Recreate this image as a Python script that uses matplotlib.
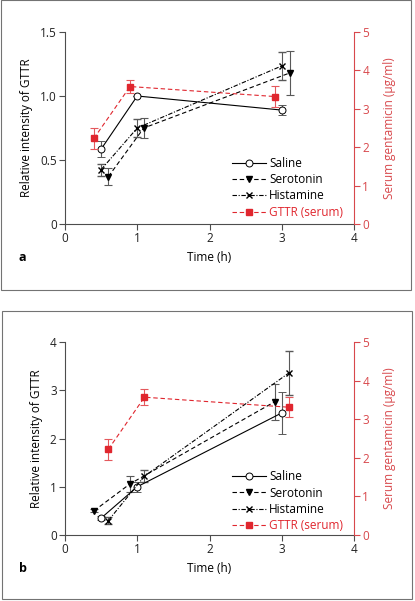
import matplotlib
matplotlib.use("Agg")
import matplotlib.pyplot as plt
from matplotlib.patches import Rectangle

plt.rcParams['font.family'] = ['Open Sans', 'DejaVu Sans']
plt.rcParams['font.size'] = 8.5

RED = '#e0262e'
AXRED = '#d8484c'

# ---- panel a ----
a_saline_x = [0.5, 1.0, 3.0]
a_saline_y = [0.585, 1.0, 0.89]
a_saline_err = [0.065, 0.0, 0.04]

a_sero_x = [0.6, 1.09, 3.11]
a_sero_y = [0.37, 0.75, 1.18]
a_sero_err = [0.065, 0.075, 0.17]

a_hist_x = [0.5, 1.0, 3.0]
a_hist_y = [0.425, 0.75, 1.235]
a_hist_err = [0.047, 0.073, 0.11]

a_gttr_x = [0.4, 0.9, 2.9]
a_gttr_y = [2.23, 3.58, 3.32]
a_gttr_err = [0.27, 0.18, 0.27]

# ---- panel b ----
b_saline_x = [0.5, 1.0, 3.0]
b_saline_y = [0.35, 1.0, 2.53]
b_saline_err = [0.04, 0.1, 0.435]

b_sero_x = [0.4, 0.9, 2.9]
b_sero_y = [0.5, 1.06, 2.76]
b_sero_err = [0.03, 0.16, 0.37]

b_hist_x = [0.6, 1.1, 3.1]
b_hist_y = [0.3, 1.22, 3.36]
b_hist_err = [0.07, 0.12, 0.45]

b_gttr_x = [0.6, 1.1, 3.1]
b_gttr_y = [2.22, 3.57, 3.31]
b_gttr_err = [0.27, 0.2, 0.26]

legend_names = ['Saline', 'Serotonin', 'Histamine', 'GTTR (serum)']


def panel(ax, data, ymax, yticks, yticklabels, letter, legend_y):
    (sx, sy, se), (tx, ty, te), (hx, hy, he), (gx, gy, ge) = data
    ax2 = ax.twinx()
    ebkw = dict(ecolor='0.35', elinewidth=0.8, capsize=3, capthick=0.8)
    l1 = ax.errorbar(sx, sy, yerr=se, color='k', lw=0.8, ls='-', marker='o',
                     ms=5, mfc='white', mec='k', mew=0.7, **ebkw)
    l2 = ax.errorbar(tx, ty, yerr=te, color='k', lw=0.8, ls=(0, (4, 2.5)), marker='v',
                     ms=4.5, mfc='k', mec='k', **ebkw)
    l3 = ax.errorbar(hx, hy, yerr=he, color='k', lw=0.8, ls=(0, (4, 1.5, 1, 1.5)),
                     marker='x', ms=4, mew=1.0, **ebkw)
    l4 = ax2.errorbar(gx, gy, yerr=ge, color=RED, lw=0.8, ls=(0, (4, 2.5)), marker='s',
                      ms=5, mfc=RED, mec=RED, ecolor='#e4585c', elinewidth=0.8,
                      capsize=3, capthick=0.8)

    ax.set_xlim(0, 4)
    ax.set_ylim(0, ymax)
    ax.set_xticks([0, 1, 2, 3, 4])
    ax.set_yticks(yticks)
    ax.set_yticklabels(yticklabels)
    ax2.set_ylim(0, 5)
    ax2.set_yticks([0, 1, 2, 3, 4, 5])

    for a in (ax, ax2):
        a.spines['top'].set_visible(False)
        a.patch.set_visible(False)
    ax.spines['right'].set_visible(False)
    ax2.spines['left'].set_visible(False)
    ax2.spines['bottom'].set_visible(False)
    for s in ('left', 'bottom'):
        ax.spines[s].set_color('0.3')
        ax.spines[s].set_linewidth(0.8)
    ax2.spines['right'].set_color(AXRED)
    ax2.spines['right'].set_linewidth(0.8)
    ax.tick_params(direction='out', length=4, width=0.8, color='0.3',
                   labelsize=8.5, pad=2, labelcolor='#222222')
    ax2.tick_params(direction='out', length=4, width=0.8, color=AXRED,
                    labelcolor=AXRED, labelsize=8.5, pad=2)

    ax.set_xlabel('Time (h)', fontsize=8.5, labelpad=4)
    ax.set_ylabel('Relative intensity of GTTR', fontsize=8.5, labelpad=5)
    ax2.set_ylabel('Serum gentamicin (\u00b5g/ml)', fontsize=8.5, color=AXRED, labelpad=10)
    ax.text(-0.16, -0.175, letter, transform=ax.transAxes, fontsize=9,
            fontweight='bold', va='center', ha='left')

    handles = [l1[0], l2[0], l3[0], l4[0]]
    leg = ax.legend(handles, legend_names, loc='upper left',
                    bbox_to_anchor=(0.56, legend_y), frameon=False, fontsize=8.5,
                    handlelength=2.9, handletextpad=0.3, labelspacing=0.28,
                    borderaxespad=0)
    leg.get_texts()[3].set_color(RED)


fig = plt.figure(figsize=(4.15, 6.01), dpi=100)
W, H = 415.0, 601.0

fig.patches.append(Rectangle((1 / W, 1 - 290 / H), 410 / W, 290 / H, transform=fig.transFigure,
                             fill=False, edgecolor='0.45', lw=0.8))
fig.patches.append(Rectangle((2 / W, 1 - 599 / H), 410 / W, 288 / H, transform=fig.transFigure,
                             fill=False, edgecolor='0.45', lw=0.8))

ax_a = fig.add_axes([65 / W, 1 - 224 / H, 289 / W, 192 / H])
panel(ax_a,
      [(a_saline_x, a_saline_y, a_saline_err), (a_sero_x, a_sero_y, a_sero_err),
       (a_hist_x, a_hist_y, a_hist_err), (a_gttr_x, a_gttr_y, a_gttr_err)],
      1.5, [0, 0.5, 1.0, 1.5], ['0', '0.5', '1.0', '1.5'], 'a', 0.375)

ax_b = fig.add_axes([65 / W, 1 - 535 / H, 289 / W, 193 / H])
panel(ax_b,
      [(b_saline_x, b_saline_y, b_saline_err), (b_sero_x, b_sero_y, b_sero_err),
       (b_hist_x, b_hist_y, b_hist_err), (b_gttr_x, b_gttr_y, b_gttr_err)],
      4, [0, 1, 2, 3, 4], ['0', '1', '2', '3', '4'], 'b', 0.36)

fig.savefig('out.png', dpi=100)
